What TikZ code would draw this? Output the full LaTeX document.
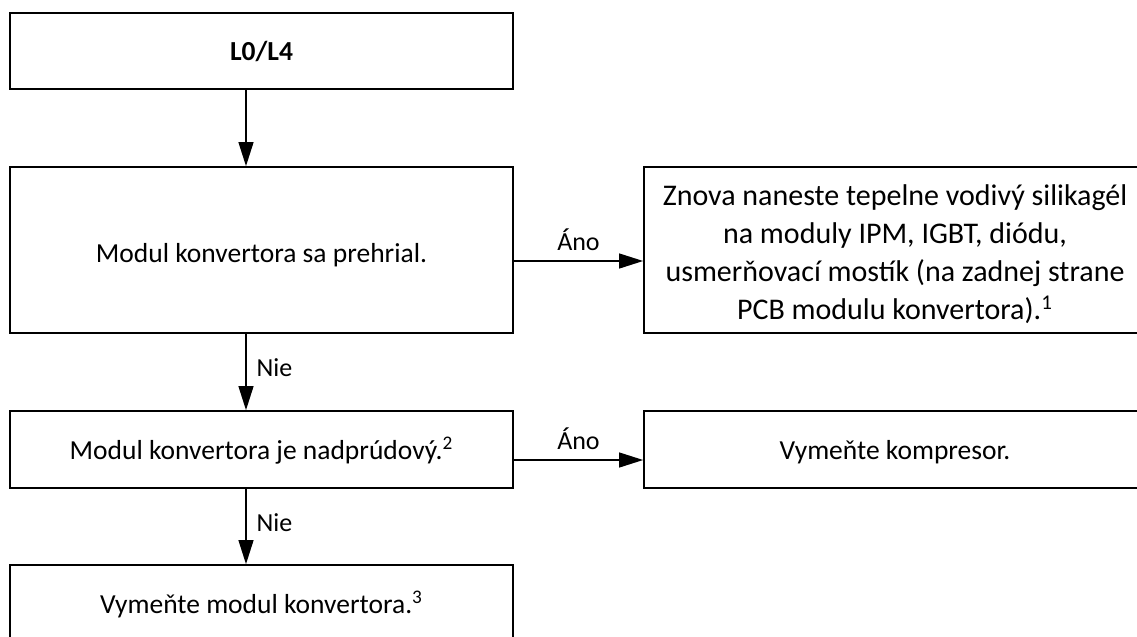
\documentclass[tikz,border=0pt]{standalone}
\usepackage{fontspec}
\setmainfont{Carlito}
\usetikzlibrary{arrows.meta, positioning, calc}

\begin{document}
\begin{tikzpicture}[
    x=0.5pt, y=-0.5pt,
    every node/.style={font=\fontsize{13.75}{19}\selectfont},
    box/.style={draw, line width=0.9pt, minimum width=251.5pt, inner sep=0pt, align=center},
    line/.style={text height=10.5pt, text depth=0.5pt},
    wide/.style={box, minimum width=251pt},
    tall/.style={minimum height=83pt},
    short/.style={minimum height=38.5pt},
    arr/.style={-{Triangle[length=12pt, width=7.5pt]}, line width=0.65pt},
    lbl/.style={font=\fontsize{13}{15}\selectfont, inner sep=0pt}
]
\useasboundingbox (0,0) rectangle (1137,637);

\node[box, line, minimum height=38pt, font=\fontsize{13.75}{19}\selectfont\bfseries] (l0) at (261.5,51) {L0/L4};
\node[box, line, tall, text height=12pt, text depth=0pt] (prehrial) at (261.5,250) {Modul konvertora sa prehrial.};
\node[wide, tall, font=\fontsize{15}{19}\selectfont] (silikagel) at (895,250) {\rule{0pt}{15pt}Znova naneste tepelne vodivý silikagél\\na moduly IPM, IGBT, diódu,\\usmerňovací mostík (na zadnej strane\\PCB modulu konvertora).\textsuperscript{1}};
\node[box, line, short] (nadprud) at (261.5,449.5) {Modul konvertora je nadprúdový.\textsuperscript{2}};
\node[wide, line, short] (kompresor) at (895,449.5) {Vymeňte kompresor.};
\node[box, line, short] (vymena) at (261.5,603.5) {Vymeňte modul konvertora.\textsuperscript{3}};

\coordinate (axis) at (246,0);

\draw[arr] (l0.south -| axis) -- (prehrial.north -| axis);
\draw[arr] ([yshift=-5.5pt]prehrial.east) -- node[lbl, anchor=base, yshift=5.5pt] {Áno} ([yshift=-5.5pt]silikagel.west);
\draw[arr] (prehrial.south -| axis) -- node[lbl, anchor=base west, xshift=5pt, yshift=-2.25pt] {Nie} (nadprud.north -| axis);
\draw[arr] ([yshift=-5.25pt]nadprud.east) -- node[lbl, anchor=base, yshift=5.25pt] {Áno} ([yshift=-5.25pt]kompresor.west);
\draw[arr] (nadprud.south -| axis) -- node[lbl, anchor=base west, xshift=5pt, yshift=-2.25pt] {Nie} (vymena.north -| axis);

\end{tikzpicture}
\end{document}
